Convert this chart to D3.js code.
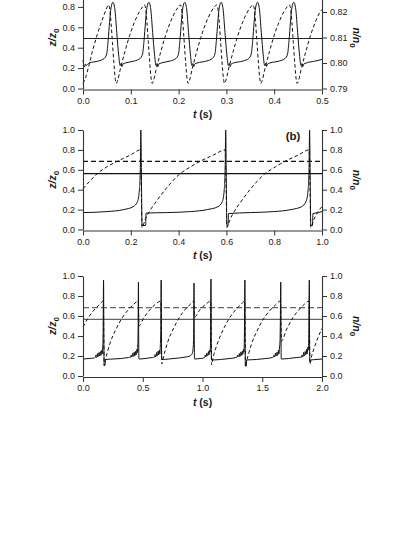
<!DOCTYPE html>
<html lang="en">
<head>
<meta charset="utf-8">
<title>z/z0 and n/n0 time traces</title>
<script src="https://d3js.org/d3.v7.min.js"></script>
<style>
  body { margin: 0; background: #fff; }
  svg { display: block; font-family: "Liberation Sans", Arial, sans-serif; }
  .tick text { font-size: 9px; fill: #1a1a1a; }
  .tick line, .domain { stroke: #333; }
  .ttl { font-size: 10.5px; font-weight: bold; fill: #1a1a1a; }
</style>
</head>
<body>
<script>
// ---- shared ticks
const zTicks = [0, 0.2, 0.4, 0.6, 0.8, 1.0];

// ---- panel (a): t 0..0.5 s, dashed on right axis 0.79..0.83 (top cut off by the page)
const xTicksA = [0, 0.1, 0.2, 0.3, 0.4, 0.5];
const zTicksA = [0, 0.2, 0.4, 0.6, 0.8];
const nTicksA = [0.79, 0.80, 0.81, 0.82];
const levelA = 0.49;
const solidA = [
  [0,0.28],[0.003,0.21],[0.005,0.24],[0.007,0.225],[0.010,0.24],[0.0126,0.25],
  [0.0326,0.27],[0.0446,0.295],[0.0496,0.34],[0.0526,0.47],[0.0556,0.65],[0.0586,0.79],[0.0626,0.845],[0.0666,0.78],[0.0706,0.55],[0.0746,0.33],[0.0776,0.225],[0.0796,0.245],[0.0816,0.215],[0.0836,0.24],[0.0886,0.25],
  [0.1077,0.27],[0.1197,0.295],[0.1247,0.34],[0.1277,0.47],[0.1307,0.65],[0.1337,0.79],[0.1377,0.845],[0.1417,0.78],[0.1457,0.55],[0.1497,0.33],[0.1527,0.225],[0.1547,0.245],[0.1567,0.215],[0.1587,0.24],[0.1637,0.25],
  [0.1828,0.27],[0.1948,0.295],[0.1998,0.34],[0.2028,0.47],[0.2058,0.65],[0.2088,0.79],[0.2128,0.845],[0.2168,0.78],[0.2208,0.55],[0.2248,0.33],[0.2278,0.225],[0.2298,0.245],[0.2318,0.215],[0.2338,0.24],[0.2388,0.25],
  [0.259,0.27],[0.271,0.295],[0.276,0.34],[0.279,0.47],[0.282,0.65],[0.285,0.79],[0.289,0.845],[0.293,0.78],[0.297,0.55],[0.301,0.33],[0.304,0.225],[0.306,0.245],[0.308,0.215],[0.310,0.24],[0.315,0.25],
  [0.335,0.27],[0.347,0.295],[0.352,0.34],[0.355,0.47],[0.358,0.65],[0.361,0.79],[0.365,0.845],[0.369,0.78],[0.373,0.55],[0.377,0.33],[0.380,0.225],[0.382,0.245],[0.384,0.215],[0.386,0.24],[0.391,0.25],
  [0.411,0.27],[0.423,0.295],[0.428,0.34],[0.431,0.47],[0.434,0.65],[0.437,0.79],[0.441,0.845],[0.445,0.78],[0.449,0.55],[0.453,0.33],[0.456,0.225],[0.458,0.245],[0.460,0.215],[0.462,0.24],[0.467,0.25],
  [0.487,0.27],[0.500,0.285]
];
const dashedA = [
  [0,0.7920],[0.005,0.7940],[0.012,0.7988],[0.020,0.8048],[0.030,0.8112],[0.040,0.8168],[0.048,0.8208],[0.0536,0.8228],
  [0.0556,0.8216],[0.0586,0.8160],[0.0616,0.8080],[0.0646,0.8000],[0.0676,0.7936],[0.0696,0.7920],[0.0726,0.7932],[0.0776,0.7972],[0.0876,0.8044],[0.0976,0.8108],[0.1076,0.8160],[0.1176,0.8200],[0.1246,0.8220],[0.1287,0.8228],
  [0.1307,0.8216],[0.1337,0.8160],[0.1367,0.8080],[0.1397,0.8000],[0.1427,0.7936],[0.1447,0.7920],[0.1477,0.7932],[0.1527,0.7972],[0.1627,0.8044],[0.1727,0.8108],[0.1827,0.8160],[0.1927,0.8200],[0.1997,0.8220],[0.2038,0.8228],
  [0.2058,0.8216],[0.2088,0.8160],[0.2118,0.8080],[0.2148,0.8000],[0.2178,0.7936],[0.2198,0.7920],[0.2228,0.7932],[0.2278,0.7972],[0.2378,0.8044],[0.2478,0.8108],[0.2578,0.8160],[0.2678,0.8200],[0.2748,0.8220],[0.2800,0.8228],
  [0.2820,0.8216],[0.2850,0.8160],[0.2880,0.8080],[0.2910,0.8000],[0.2940,0.7936],[0.2960,0.7920],[0.2990,0.7932],[0.3040,0.7972],[0.3140,0.8044],[0.3240,0.8108],[0.3340,0.8160],[0.3440,0.8200],[0.3510,0.8220],[0.3560,0.8228],
  [0.3580,0.8216],[0.3610,0.8160],[0.3640,0.8080],[0.3670,0.8000],[0.3700,0.7936],[0.3720,0.7920],[0.3750,0.7932],[0.3800,0.7972],[0.3900,0.8044],[0.4000,0.8108],[0.4100,0.8160],[0.4200,0.8200],[0.4270,0.8220],[0.4320,0.8228],
  [0.4340,0.8216],[0.4370,0.8160],[0.4400,0.8080],[0.4430,0.8000],[0.4460,0.7936],[0.4480,0.7920],[0.4510,0.7932],[0.4560,0.7972],[0.4660,0.8044],[0.4760,0.8108],[0.4860,0.8160],[0.4960,0.8200],[0.5000,0.8210]
];

// ---- panel (b): t 0..1 s
const xTicksB = [0, 0.2, 0.4, 0.6, 0.8, 1.0];
const levelSolidB = 0.562;
const levelDashedB = 0.685;
const solidB = [
  [0,0.17],[0.10,0.18],[0.17,0.20],[0.21,0.23],[0.228,0.28],[0.236,0.40],[0.240,0.65],[0.242,1.0],[0.245,0.40],[0.247,0.04],[0.262,0.04],[0.264,0.165],
  [0.35,0.17],[0.45,0.18],[0.52,0.20],[0.565,0.23],[0.583,0.28],[0.591,0.40],[0.595,0.65],[0.597,1.0],[0.600,0.40],[0.602,0.04],[0.607,0.04],[0.609,0.16],
  [0.70,0.17],[0.80,0.18],[0.87,0.20],[0.915,0.23],[0.933,0.28],[0.942,0.40],[0.946,0.65],[0.948,1.0],[0.951,0.40],[0.953,0.04],[0.960,0.04],[0.962,0.16],[0.985,0.17],[1.0,0.18]
];
const dashedB = [
  [0,0.41],[0.03,0.49],[0.059,0.56],[0.10,0.63],[0.143,0.685],[0.20,0.75],[0.240,0.80],[0.244,0.40],
  [0.247,0.02],[0.26,0.10],[0.28,0.19],[0.30,0.26],[0.347,0.41],[0.406,0.56],[0.45,0.63],[0.49,0.685],[0.547,0.75],[0.595,0.80],[0.599,0.40],
  [0.602,0.02],[0.615,0.10],[0.635,0.19],[0.655,0.26],[0.702,0.41],[0.761,0.56],[0.805,0.63],[0.845,0.685],[0.902,0.75],[0.946,0.80],[0.950,0.40],
  [0.953,0.02],[0.966,0.10],[0.986,0.19],[1.0,0.23]
];

// ---- panel (c): t 0..2 s
const xTicksC = [0, 0.5, 1.0, 1.5, 2.0];
const levelSolidC = 0.567;
const levelDashedC = 0.683;
const solidC = [
  [0,0.17],[0.05,0.175],[0.09,0.18],[0.105,0.19],[0.108,0.21],[0.111,0.185],[0.118,0.2],[0.121,0.225],[0.124,0.19],[0.13,0.21],[0.134,0.235],[0.137,0.2],[0.142,0.22],[0.146,0.245],[0.149,0.205],[0.154,0.23],[0.158,0.26],[0.161,0.22],[0.165,0.28],[0.168,0.40],[0.172,0.96],[0.175,0.30],[0.177,0.11],[0.185,0.11],[0.187,0.165],
  [0.25,0.17],[0.32,0.175],[0.38,0.185],[0.40,0.19],[0.403,0.21],[0.407,0.19],[0.413,0.2],[0.416,0.23],[0.419,0.195],[0.425,0.21],[0.429,0.24],[0.432,0.2],[0.438,0.22],[0.441,0.25],[0.444,0.21],[0.449,0.235],[0.452,0.27],[0.455,0.23],[0.458,0.30],[0.461,0.45],[0.464,0.94],[0.466,0.40],[0.468,0.17],
  [0.52,0.175],[0.58,0.185],[0.60,0.19],[0.603,0.215],[0.607,0.19],[0.613,0.205],[0.616,0.235],[0.62,0.2],[0.626,0.22],[0.629,0.25],[0.632,0.21],[0.637,0.235],[0.64,0.26],[0.643,0.22],[0.647,0.30],[0.651,0.45],[0.654,0.96],[0.657,0.30],[0.659,0.165],
  [0.72,0.17],[0.80,0.18],[0.86,0.19],[0.895,0.20],[0.912,0.22],[0.92,0.26],[0.925,0.35],[0.927,0.55],[0.929,0.93],[0.931,0.40],[0.933,0.17],
  [0.98,0.175],[1.01,0.18],[1.02,0.19],[1.023,0.21],[1.027,0.19],[1.033,0.205],[1.036,0.23],[1.04,0.2],[1.046,0.215],[1.05,0.245],[1.053,0.21],[1.058,0.23],[1.061,0.26],[1.064,0.24],[1.067,0.35],[1.071,0.97],[1.073,0.40],[1.075,0.16],
  [1.15,0.165],[1.23,0.175],[1.28,0.185],[1.29,0.19],[1.293,0.21],[1.297,0.19],[1.305,0.2],[1.308,0.225],[1.312,0.195],[1.318,0.21],[1.321,0.24],[1.324,0.205],[1.33,0.22],[1.333,0.25],[1.336,0.215],[1.341,0.24],[1.344,0.27],[1.347,0.24],[1.35,0.35],[1.355,0.96],[1.357,0.35],[1.359,0.10],[1.366,0.10],[1.368,0.16],
  [1.45,0.165],[1.53,0.175],[1.585,0.185],[1.595,0.19],[1.598,0.21],[1.602,0.19],[1.608,0.205],[1.611,0.23],[1.615,0.2],[1.621,0.215],[1.624,0.24],[1.627,0.205],[1.633,0.225],[1.636,0.26],[1.639,0.22],[1.644,0.28],[1.648,0.33],[1.651,0.50],[1.655,0.94],[1.657,0.40],[1.659,0.17],
  [1.72,0.175],[1.79,0.185],[1.83,0.19],[1.833,0.21],[1.837,0.19],[1.843,0.205],[1.846,0.235],[1.85,0.2],[1.856,0.215],[1.859,0.245],[1.862,0.21],[1.868,0.23],[1.871,0.27],[1.874,0.22],[1.879,0.25],[1.882,0.29],[1.886,0.26],[1.889,0.40],[1.894,0.96],[1.896,0.35],[1.898,0.14],[1.903,0.14],[1.905,0.16],
  [1.95,0.165],[2.0,0.17]
];
const dashedC = [
  [0,0.49],[0.043,0.58],[0.093,0.66],[0.143,0.72],[0.170,0.75],[0.174,0.40],
  [0.177,0.10],[0.189,0.17],[0.207,0.25],[0.227,0.33],[0.277,0.47],[0.327,0.58],[0.377,0.66],[0.427,0.72],[0.462,0.75],[0.466,0.62],
  [0.468,0.50],[0.508,0.58],[0.558,0.66],[0.608,0.72],[0.652,0.75],[0.656,0.40],
  [0.659,0.12],[0.671,0.18],[0.689,0.26],[0.709,0.34],[0.759,0.48],[0.809,0.59],[0.859,0.67],[0.909,0.73],[0.927,0.75],[0.931,0.65],
  [0.933,0.59],[0.98,0.665],[1.03,0.72],[1.069,0.75],[1.073,0.40],
  [1.076,0.11],[1.088,0.18],[1.106,0.26],[1.126,0.33],[1.176,0.47],[1.226,0.58],[1.276,0.66],[1.326,0.72],[1.353,0.75],[1.357,0.35],
  [1.360,0.09],[1.372,0.16],[1.390,0.24],[1.410,0.32],[1.460,0.46],[1.510,0.57],[1.560,0.65],[1.610,0.71],[1.653,0.75],[1.657,0.50],
  [1.660,0.35],[1.705,0.47],[1.755,0.58],[1.805,0.66],[1.855,0.72],[1.892,0.75],[1.896,0.40],
  [1.899,0.12],[1.911,0.19],[1.929,0.26],[1.949,0.33],[1.990,0.45],[2.0,0.475]
];

const W = 415, H = 537;
const xLeft = 83, xRight = 322;

const svg = d3.select("body").append("svg")
  .attr("width", W).attr("height", H);

function drawPanel(o) {
  const g = svg.append("g");
  const x = d3.scaleLinear().domain(o.xDomain).range([xLeft, xRight]);
  const y = d3.scaleLinear().domain([0, 1]).range([o.y0, o.y1]);
  const yr = d3.scaleLinear().domain(o.nDomain).range([o.y0, o.y1]);

  // mean levels
  if (o.levelDashed != null) {
    g.append("line")
      .attr("x1", x(o.xDomain[0])).attr("x2", x(o.xDomain[1]))
      .attr("y1", yr(o.levelDashed)).attr("y2", yr(o.levelDashed))
      .attr("stroke", o.levelColor).attr("stroke-width", 1.2)
      .attr("stroke-dasharray", o.levelDash);
  }
  g.append("line")
    .attr("x1", x(o.xDomain[0])).attr("x2", x(o.xDomain[1]))
    .attr("y1", y(o.levelSolid)).attr("y2", y(o.levelSolid))
    .attr("stroke", o.levelColor).attr("stroke-width", 1.2);

  const lineZ = d3.line().x(d => x(d[0])).y(d => y(d[1])).curve(d3.curveMonotoneX);
  const lineN = d3.line().x(d => x(d[0])).y(d => yr(d[1])).curve(d3.curveMonotoneX);

  g.append("path").attr("d", lineN(o.dashed))
    .attr("fill", "none").attr("stroke", "#111").attr("stroke-width", 1)
    .attr("stroke-dasharray", "3.5,2.5");
  g.append("path").attr("d", lineZ(o.solid))
    .attr("fill", "none").attr("stroke", "#111").attr("stroke-width", 1);

  // axes
  g.append("g").attr("transform", `translate(${xLeft},0)`)
    .call(d3.axisLeft(y).tickValues(o.zTicks).tickFormat(d3.format(".1f"))
      .tickSize(5).tickPadding(3).tickSizeOuter(0));
  g.append("g").attr("transform", `translate(${xRight},0)`)
    .call(d3.axisRight(yr).tickValues(o.nTicks).tickFormat(d3.format(o.nFmt))
      .tickSize(5).tickPadding(3).tickSizeOuter(0));
  g.append("g").attr("transform", `translate(0,${o.y0 + 1})`)
    .call(d3.axisBottom(x).tickValues(o.xTicks).tickFormat(d3.format(".1f"))
      .tickSize(5).tickPadding(3).tickSizeOuter(0));
  g.selectAll(".domain").attr("stroke-width", 1.1);

  // titles
  const yc = (o.y0 + o.y1) / 2;
  const tx = g.append("text").attr("class", "ttl")
    .attr("x", (xLeft + xRight) / 2).attr("y", o.y0 + 29.5)
    .attr("text-anchor", "middle");
  tx.append("tspan").attr("font-style", "italic").text("t");
  tx.append("tspan").text(" (s)");

  const tl = g.append("text").attr("class", "ttl")
    .attr("text-anchor", "middle")
    .attr("transform", `translate(56,${yc}) rotate(-90)`);
  tl.append("tspan").attr("font-style", "italic").text("z/z");
  tl.append("tspan").attr("dy", 3).attr("font-size", "8px").text("0");

  const tr = g.append("text").attr("class", "ttl")
    .attr("text-anchor", "middle")
    .attr("transform", `translate(353,${yc}) rotate(90)`);
  tr.append("tspan").attr("font-style", "italic").text("n/n");
  tr.append("tspan").attr("dy", 3).attr("font-size", "8px").text("0");

  if (o.tag) {
    g.append("text").attr("class", "ttl").style("font-size", "11.5px")
      .attr("x", 293).attr("y", o.y1 + 10).attr("text-anchor", "middle")
      .text(o.tag);
  }
}

drawPanel({
  xDomain: [0, 0.5], xTicks: xTicksA, y0: 88.5, y1: -13.5, zTicks: zTicksA,
  nDomain: [0.79, 0.83], nTicks: nTicksA, nFmt: ".2f",
  solid: solidA, dashed: dashedA, levelSolid: levelA, levelDashed: null,
  levelColor: "#222"
});
drawPanel({
  xDomain: [0, 1], xTicks: xTicksB, y0: 229.5, y1: 130, zTicks: zTicks,
  nDomain: [0, 1], nTicks: zTicks, nFmt: ".1f",
  solid: solidB, dashed: dashedB, levelSolid: levelSolidB, levelDashed: levelDashedB,
  levelColor: "#111", levelDash: "5,3", tag: "(b)"
});
drawPanel({
  xDomain: [0, 2], xTicks: xTicksC, y0: 376, y1: 276, zTicks: zTicks,
  nDomain: [0, 1], nTicks: zTicks, nFmt: ".1f",
  solid: solidC, dashed: dashedC, levelSolid: levelSolidC, levelDashed: levelDashedC,
  levelColor: "#666", levelDash: "6,3"
});
</script>
</body>
</html>
